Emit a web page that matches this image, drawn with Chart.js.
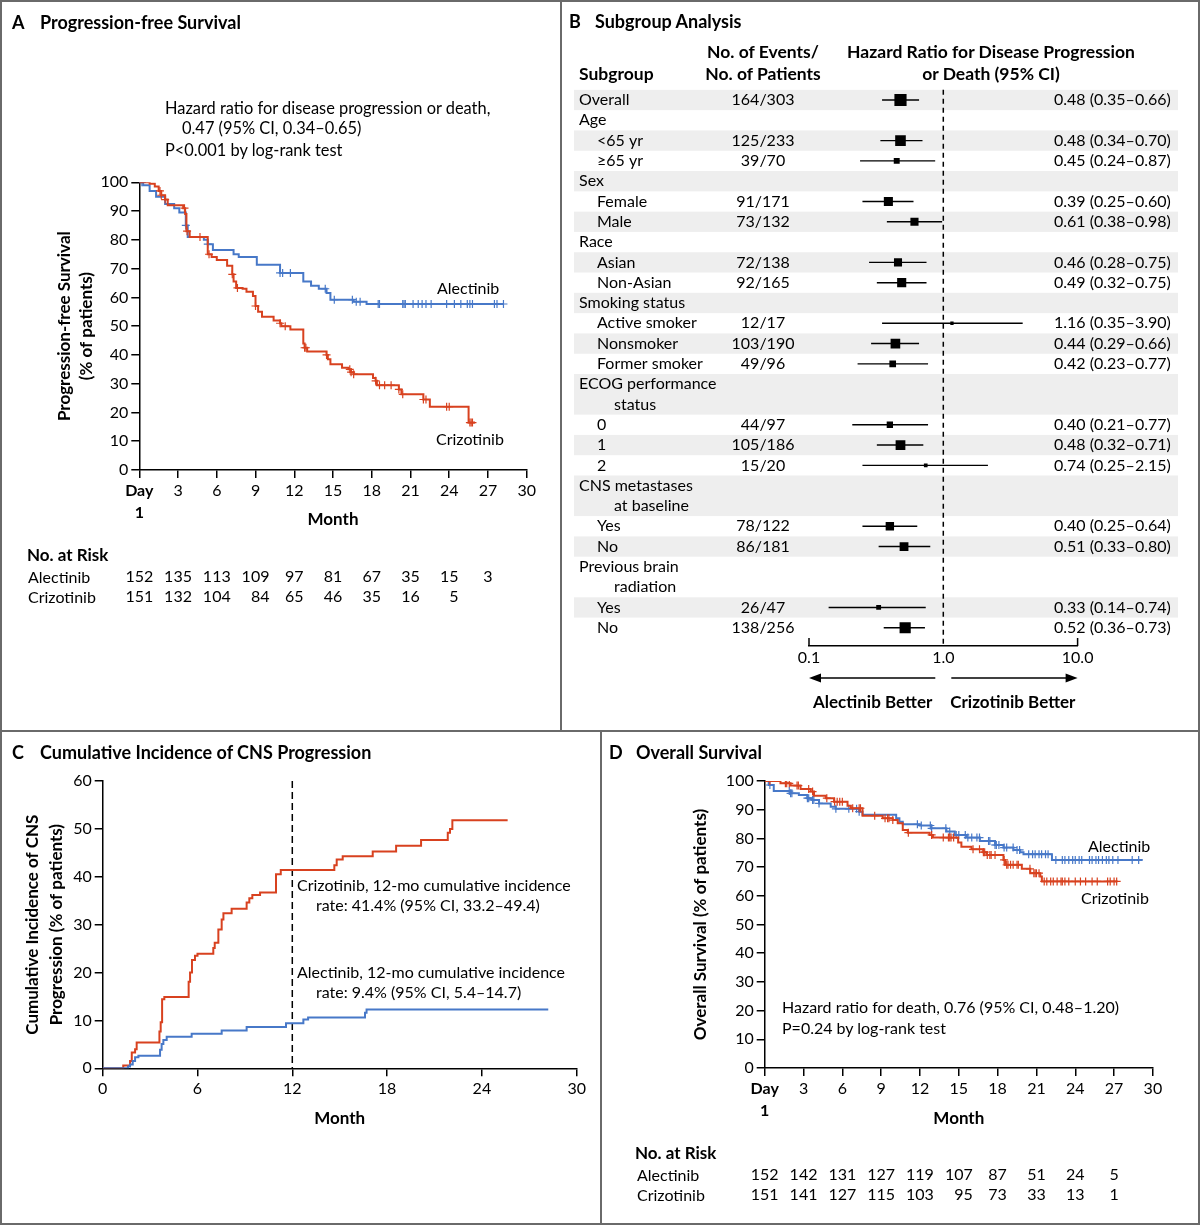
<!DOCTYPE html>
<html>
<head>
<meta charset="utf-8">
<script src="https://cdn.jsdelivr.net/npm/chart.js@4.4.1/dist/chart.umd.min.js"></script>
<style>
body { margin: 0; background: #fff; font-family: Lato, "Noto Sans", sans-serif; color: #000; }
#fig { position: relative; width: 1200px; height: 1225px; overflow: hidden; background: #fff; }
.panel { position: absolute; }
.panel canvas { position: absolute; left: 0; top: 0; }
.rule { position: absolute; background: #6a6a6a; }
.t { position: absolute; white-space: nowrap; font-size: 16px; line-height: 20px; }
.b { font-weight: bold; }
.h { font-size: 17.5px; }
.c { transform: translateX(-50%); }
.ttl { font-size: 18px; font-weight: bold; }
</style>
</head>
<body>
<div id="fig">
  <div class="rule" style="left:0;top:0;width:1200px;height:1225px;background:none;border:2px solid #6a6a6a;box-sizing:border-box"></div>
  <div class="rule" style="left:560px;top:0;width:2px;height:731px"></div>
  <div class="rule" style="left:0;top:730px;width:1200px;height:2px"></div>
  <div class="rule" style="left:600px;top:731px;width:2px;height:494px"></div>

  <!-- A -->
  <div class="panel" style="left:0;top:0;width:561px;height:731px">
    <canvas id="chartA"></canvas>
    <div class="t ttl" style="left:12px;top:12px">A</div>
    <div class="t ttl" style="left:40px;top:12px">Progression-free Survival</div>
    <div class="t" style="left:165px;top:98px;font-size:16.4px">Hazard ratio for disease progression or death,</div>
    <div class="t" style="left:182px;top:118px;font-size:16.4px">0.47 (95% CI, 0.34–0.65)</div>
    <div class="t" style="left:165px;top:140px;font-size:16.4px">P&lt;0.001 by log-rank test</div>
    <div class="t" style="left:437px;top:278px">Alectinib</div>
    <div class="t" style="left:436px;top:429px">Crizotinib</div>
    <div class="t b" style="left:27px;top:545px;font-size:17px">No. at Risk</div>
    <div class="t" style="left:28px;top:567px">Alectinib</div>
    <div class="t" style="left:28px;top:587px">Crizotinib</div>
  </div>

  <!-- B -->
  <div class="panel" style="left:561px;top:0;width:639px;height:731px">
    <canvas id="chartB"></canvas>
    <div class="t ttl" style="left:8px;top:11px">B</div>
    <div class="t ttl" style="left:34px;top:11px">Subgroup Analysis</div>
    <div class="t b h" style="left:18px;top:64px">Subgroup</div>
    <div class="t b h c" style="left:202px;top:42px">No. of Events/</div>
    <div class="t b h c" style="left:202px;top:64px">No. of Patients</div>
    <div class="t b h c" style="left:430px;top:42px">Hazard Ratio for Disease Progression</div>
    <div class="t b h c" style="left:430px;top:64px">or Death (95% CI)</div>
  </div>

  <!-- C -->
  <div class="panel" style="left:0;top:731px;width:601px;height:494px">
    <canvas id="chartC"></canvas>
    <div class="t ttl" style="left:12px;top:11px">C</div>
    <div class="t ttl" style="left:40px;top:11px">Cumulative Incidence of CNS Progression</div>
    <div class="t" style="left:297px;top:144px">Crizotinib, 12-mo cumulative incidence</div>
    <div class="t" style="left:316px;top:164px">rate: 41.4% (95% CI, 33.2–49.4)</div>
    <div class="t" style="left:297px;top:231px">Alectinib, 12-mo cumulative incidence</div>
    <div class="t" style="left:316px;top:251px">rate: 9.4% (95% CI, 5.4–14.7)</div>
  </div>

  <!-- D -->
  <div class="panel" style="left:601px;top:731px;width:599px;height:494px">
    <canvas id="chartD"></canvas>
    <div class="t ttl" style="left:8px;top:11px">D</div>
    <div class="t ttl" style="left:35px;top:11px">Overall Survival</div>
    <div class="t" style="left:181px;top:266px">Hazard ratio for death, 0.76 (95% CI, 0.48–1.20)</div>
    <div class="t" style="left:181px;top:287px">P=0.24 by log-rank test</div>
    <div class="t" style="left:487px;top:105px">Alectinib</div>
    <div class="t" style="left:480px;top:157px">Crizotinib</div>
    <div class="t b" style="left:34px;top:412px;font-size:17px">No. at Risk</div>
    <div class="t" style="left:36px;top:434px">Alectinib</div>
    <div class="t" style="left:36px;top:454px">Crizotinib</div>
  </div>
</div>

<script>
const BLUE = '#4778c8';
const RED = '#d8411f';
const FONT = 'Lato, "Noto Sans", sans-serif';

// ---- A: progression-free survival (months, % event-free)
const pfsMonthsAlec = [0, 0.3, 0.8, 1.3, 2.0, 2.7, 3.1, 3.6, 3.75, 5.0, 5.3, 5.7, 7.3, 7.7, 9.1, 10.9, 12.7, 13.3, 13.9, 14.5, 14.8, 16.6, 17.6, 28.2];
const pfsAlec = [100, 99, 97, 95, 92.5, 91, 89.5, 85, 81, 80, 78.5, 76.5, 75, 74, 71.3, 68.5, 65.5, 64, 63, 61.5, 59.2, 58.5, 57.7, 57.7];
const pfsMonthsCriz = [0, 0.8, 1.2, 1.5, 1.7, 2.0, 2.2, 3.4, 3.55, 3.65, 3.9, 5.3, 5.6, 6.0, 6.8, 7.2, 7.3, 7.5, 8.0, 8.3, 8.8, 9.0, 9.2, 9.5, 10.4, 10.9, 11.0, 11.7, 12.7, 12.8, 13.0, 14.5, 14.6, 14.8, 15.7, 16.2, 16.4, 16.6, 18.1, 18.3, 18.4, 20.1, 20.3, 22.0, 22.5, 25.5, 26.0];
const pfsCriz = [100, 99.5, 98.5, 97, 95.5, 94, 92, 91, 89, 83, 81, 75, 74, 73, 71, 68, 65.5, 63.3, 63, 62, 60.5, 57, 55, 53.3, 52, 51, 50, 48.8, 44, 42.5, 41.2, 40, 38.5, 36.8, 35.5, 35, 34, 33.3, 32, 31, 29.5, 28, 26.3, 24.5, 22, 16.5, 16.5];
const pfsCensorAlec = [0.2, 3.6, 5.3, 10.9, 11.1, 11.7, 14.4, 15.1, 16.5, 16.8, 17.1, 18.5, 18.6, 20.4, 20.5, 20.6, 21.2, 21.6, 21.9, 22.2, 22.6, 23.8, 24.4, 24.9, 25.4, 25.6, 25.8, 27.5, 27.7, 28.2];
const pfsCensorCriz = [1.6, 1.7, 2.0, 3.5, 3.7, 4.7, 5.4, 7.2, 7.6, 9.0, 10.9, 11.3, 12.8, 12.9, 14.5, 16.3, 16.4, 16.6, 18.3, 18.6, 19.0, 19.5, 20.1, 20.4, 22.0, 22.2, 23.8, 24.0, 25.6, 25.7, 25.8];
const riskMonths = [0, 3, 6, 9, 12, 15, 18, 21, 24, 27];
const pfsRiskAlec = [152, 135, 113, 109, 97, 81, 67, 35, 15, 3];
const pfsRiskCriz = [151, 132, 104, 84, 65, 46, 35, 16, 5, null];

// ---- B: subgroup analysis
const subgroups = ['Overall', 'Age', '<65 yr', '≥65 yr', 'Sex', 'Female', 'Male', 'Race', 'Asian', 'Non-Asian',
  'Smoking status', 'Active smoker', 'Nonsmoker', 'Former smoker', ['ECOG performance', 'status'], '0', '1', '2',
  ['CNS metastases', 'at baseline'], 'Yes', 'No', ['Previous brain', 'radiation'], 'Yes', 'No'];
const subgroupLevel = [0, 0, 1, 1, 0, 1, 1, 0, 1, 1, 0, 1, 1, 1, 0, 1, 1, 1, 0, 1, 1, 0, 1, 1];
const eventsPatients = ['164/303', '', '125/233', '39/70', '', '91/171', '73/132', '', '72/138', '92/165',
  '', '12/17', '103/190', '49/96', '', '44/97', '105/186', '15/20', '', '78/122', '86/181', '', '26/47', '138/256'];
const hazardRatio = [0.48, null, 0.48, 0.45, null, 0.39, 0.61, null, 0.46, 0.49, null, 1.16, 0.44, 0.42, null, 0.40, 0.48, 0.74, null, 0.40, 0.51, null, 0.33, 0.52];
const ciLow = [0.35, null, 0.34, 0.24, null, 0.25, 0.38, null, 0.28, 0.32, null, 0.35, 0.29, 0.23, null, 0.21, 0.32, 0.25, null, 0.25, 0.33, null, 0.14, 0.36];
const ciHigh = [0.66, null, 0.70, 0.87, null, 0.60, 0.98, null, 0.75, 0.75, null, 3.90, 0.66, 0.77, null, 0.77, 0.71, 2.15, null, 0.64, 0.80, null, 0.74, 0.73];
const hrTicks = [0.1, 1, 10];

// ---- C: cumulative incidence of CNS progression (months, %)
const cnsMonthsCriz = [0, 1.3, 1.73, 1.84, 2.05, 2.15, 3.59, 3.67, 3.76, 3.9, 5.44, 5.53, 5.65, 5.84, 6.0, 7.0, 7.09, 7.32, 7.53, 7.64, 8.16, 9.11, 9.28, 9.47, 9.96, 10.97, 11.27, 14.66, 14.81, 15.19, 17.09, 18.57, 20.15, 21.84, 21.98, 22.13, 25.63];
const cnsCriz = [0, 0.6, 1.5, 3.3, 4, 5.4, 7.7, 9.6, 14.4, 14.9, 18.1, 20, 22.6, 23.5, 23.9, 25.1, 26.2, 29, 31.1, 32.4, 33.3, 34.6, 35.5, 36.2, 36.7, 40.5, 41.4, 42.4, 43.6, 44.3, 45.3, 46.5, 47.7, 49.2, 50, 51.8, 51.8];
const cnsMonthsAlec = [0, 1.6, 1.73, 1.9, 2.05, 2.26, 3.63, 3.73, 3.84, 4.05, 5.63, 7.53, 9.11, 11.6, 12.7, 13.0, 16.6, 16.7, 28.2];
const cnsAlec = [0, 0.4, 0.8, 1.5, 2.3, 2.6, 3.9, 5.1, 5.9, 6.6, 7.2, 7.9, 8.6, 9.4, 10.2, 10.6, 11.6, 12.3, 12.3];
const landmarkMonth = 12;

// ---- D: overall survival (months, %)
const osMonthsAlec = [0, 0.31, 0.7, 2.0, 2.64, 3.29, 3.68, 4.2, 5.1, 5.49, 7.3, 7.56, 10.16, 10.41, 10.67, 11.97, 12.88, 14.04, 14.69, 15.6, 16.63, 17.8, 18.45, 19.22, 19.74, 20.0, 22.2, 29.2];
const osAlec = [100, 98.6, 96.5, 95.7, 95.1, 94, 93.4, 92.2, 91, 90.3, 89.3, 88.2, 87, 85.8, 84.9, 84.5, 83.5, 82.4, 81.2, 80.3, 79.1, 77.7, 76.8, 76, 75.2, 74.5, 72.5, 72.5];
const osMonthsCriz = [0, 1.22, 2.0, 2.77, 3.55, 3.81, 4.72, 5.36, 6.4, 6.66, 7.56, 9.12, 9.9, 10.28, 10.67, 11.06, 12.75, 13.0, 14.95, 15.2, 15.98, 16.89, 17.15, 18.45, 18.58, 19.87, 20.52, 21.3, 21.42, 27.25];
const osCriz = [100, 99.2, 98.4, 97.2, 96.3, 94.9, 94, 92.8, 91.4, 90.5, 87.9, 87, 86.4, 85.3, 82.9, 82, 81.2, 80.3, 78.6, 77.1, 76.2, 75.2, 74.2, 72.5, 70.8, 69.4, 67.9, 66.7, 65, 65];
const osCensorAlec = [0.3, 0.4, 1.9, 2.0, 2.1, 3.3, 3.4, 3.7, 3.8, 4.2, 5.5, 6.5, 7.1, 7.3, 11.8, 12.1, 12.8, 12.9, 14.0, 14.3, 14.8, 15.0, 15.5, 15.7, 16.0, 16.4, 16.6, 17.3, 17.4, 17.8, 17.9, 18.1, 18.5, 18.7, 19.2, 19.5, 19.7, 20.4, 20.7, 20.9, 21.2, 21.4, 21.7, 21.9, 22.5, 23.0, 23.2, 23.5, 23.8, 24.0, 24.3, 24.5, 25.1, 25.3, 25.6, 25.8, 26.1, 26.4, 26.6, 26.9, 27.3, 28.4, 28.9];
const osCensorCriz = [0.4, 1.6, 1.7, 1.9, 2.5, 2.6, 3.4, 3.7, 4.8, 5.4, 5.6, 5.8, 6.0, 6.8, 7.3, 7.4, 8.5, 9.3, 9.5, 9.6, 9.9, 11.1, 12.9, 13.8, 14.2, 14.3, 14.4, 14.6, 16.1, 16.6, 16.9, 17.0, 17.2, 17.4, 17.5, 17.8, 18.5, 18.7, 18.8, 19.0, 19.2, 19.5, 19.6, 20.5, 20.8, 20.9, 21.0, 21.2, 21.6, 21.8, 22.1, 22.3, 22.6, 22.9, 23.0, 23.2, 23.5, 24.0, 24.4, 24.8, 25.3, 25.7, 26.5, 26.7, 27.0, 27.2];
const osRiskAlec = [152, 142, 131, 127, 119, 107, 87, 51, 24, 5];
const osRiskCriz = [151, 141, 127, 115, 103, 95, 73, 33, 13, 1];

// ---------- helpers
function toXY(xs, ys) { return xs.map((x, i) => ({ x: x, y: ys[i] })); }
function stepAt(t, xs, ys) {
  let v = ys[0];
  for (let i = 0; i < xs.length; i++) { if (xs[i] <= t) v = ys[i]; else break; }
  return v;
}
function censorXY(ts, xs, ys) { return ts.map(t => ({ x: t, y: stepAt(t, xs, ys) })); }

function stepLine(xs, ys, color) {
  return { data: toXY(xs, ys), showLine: true, stepped: 'before', borderColor: color, borderWidth: 2, pointRadius: 0, pointHitRadius: 0 };
}
function censorMarks(ts, xs, ys, color) {
  return { data: censorXY(ts, xs, ys), showLine: false, pointStyle: 'cross', pointRadius: 4, borderColor: color, backgroundColor: color, borderWidth: 1.2 };
}

function yAxis(max, step, width, title, lh) {
  return {
    min: 0, max: max,
    ticks: { stepSize: step, font: { size: 16 }, padding: 3, color: '#000' },
    grid: { drawOnChartArea: false, drawTicks: true, tickLength: 8, color: '#000', lineWidth: 1.5 },
    border: { display: true, color: '#000', width: 1.5 },
    title: { display: true, text: title, color: '#000', padding: 0, font: { size: 17, weight: 'bold', lineHeight: lh } },
    afterFit: s => { s.width = width; }
  };
}
function xAxis(step, height, dayLabel) {
  return {
    type: 'linear', min: 0, max: 30,
    ticks: {
      stepSize: step, padding: 2, color: '#000', autoSkip: false, maxRotation: 0,
      callback: v => (dayLabel && v === 0) ? ['Day', '1'] : v,
      font: c => ({ size: 16, lineHeight: 1.375, weight: (dayLabel && c.tick && c.tick.value === 0) ? 'bold' : 'normal' })
    },
    grid: { drawOnChartArea: false, drawTicks: true, tickLength: 8, color: '#000', lineWidth: 1.5 },
    border: { display: true, color: '#000', width: 1.5 },
    title: { display: true, text: 'Month', color: '#000', padding: 0, font: { size: 17, weight: 'bold', lineHeight: 1.2 } },
    afterFit: s => { s.height = height; }
  };
}
function riskTable(rows, ys) {
  return {
    id: 'riskTable',
    afterDraw(chart) {
      const ctx = chart.ctx, xs = chart.scales.x;
      ctx.save();
      ctx.font = '16px ' + FONT;
      ctx.fillStyle = '#000';
      ctx.textBaseline = 'middle';
      ctx.textAlign = 'right';
      riskMonths.forEach((m, i) => {
        const w = Math.max(...rows.map(r => r[i] == null ? 0 : ctx.measureText(String(r[i])).width));
        const x = xs.getPixelForValue(m) + w / 2;
        rows.forEach((r, j) => { if (r[i] != null) ctx.fillText(String(r[i]), x, ys[j]); });
      });
      ctx.restore();
    }
  };
}
const baseOpts = {
  responsive: true, maintainAspectRatio: false, animation: false, events: [],
  plugins: { legend: { display: false }, tooltip: { enabled: false } }
};

// ---------- forest plot helpers
const rowLines = subgroups.map(s => Array.isArray(s) ? s.length : 1);
const rowStart = rowLines.map((n, i) => rowLines.slice(0, i).reduce((a, b) => a + b, 0));
const hrPoints = [];
hazardRatio.forEach((v, i) => {
  if (v != null) hrPoints.push({ x: v, y: rowStart[i], events: parseInt(eventsPatients[i], 10) });
});

const forestPlugin = {
  id: 'forest',
  beforeDraw(chart) {
    const { ctx, scales: { y } } = chart;
    ctx.save();
    ctx.fillStyle = '#eeeeee';
    rowStart.forEach((r, i) => {
      if (i % 2) return;
      const y0 = y.getPixelForValue(r - 0.5), y1 = y.getPixelForValue(r + rowLines[i] - 0.5);
      ctx.fillRect(13, y0, 604, y1 - y0);
    });
    ctx.restore();
  },
  beforeDatasetsDraw(chart) {
    const { ctx, chartArea, scales: { x, y } } = chart;
    ctx.save();
    ctx.strokeStyle = '#000';
    ctx.lineWidth = 1.5;
    ctx.setLineDash([5, 4]);
    const x1 = x.getPixelForValue(1);
    ctx.beginPath(); ctx.moveTo(x1, chartArea.top); ctx.lineTo(x1, chartArea.bottom); ctx.stroke();
    ctx.setLineDash([]);
    ctx.lineWidth = 1.4;
    hazardRatio.forEach((v, i) => {
      if (v == null) return;
      const yy = y.getPixelForValue(rowStart[i]);
      ctx.beginPath(); ctx.moveTo(x.getPixelForValue(ciLow[i]), yy); ctx.lineTo(x.getPixelForValue(ciHigh[i]), yy); ctx.stroke();
    });
    ctx.restore();
  },
  afterDraw(chart) {
    const { ctx, chartArea, scales: { x, y } } = chart;
    ctx.save();
    ctx.fillStyle = '#000';
    ctx.strokeStyle = '#000';
    ctx.textBaseline = 'middle';
    ctx.font = '16px ' + FONT;
    subgroups.forEach((s, i) => {
      const lines = Array.isArray(s) ? s : [s];
      lines.forEach((txt, k) => {
        const yy = y.getPixelForValue(rowStart[i] + k);
        ctx.textAlign = 'left';
        ctx.fillText(txt, k > 0 ? 53 : (subgroupLevel[i] ? 36 : 18), yy);
      });
      const yy = y.getPixelForValue(rowStart[i]);
      if (eventsPatients[i]) { ctx.textAlign = 'center'; ctx.fillText(eventsPatients[i], 202, yy); }
      if (hazardRatio[i] != null) {
        ctx.textAlign = 'left';
        ctx.fillText(hazardRatio[i].toFixed(2) + ' (' + ciLow[i].toFixed(2) + '–' + ciHigh[i].toFixed(2) + ')', 493, yy);
      }
    });
    // bracket ends of the axis
    ctx.lineWidth = 1.5;
    [hrTicks[0], hrTicks[hrTicks.length - 1]].forEach(v => {
      const px = x.getPixelForValue(v);
      ctx.beginPath(); ctx.moveTo(px, chartArea.bottom); ctx.lineTo(px, chartArea.bottom - 8); ctx.stroke();
    });
    // arrows
    const x1 = x.getPixelForValue(1), ay = chartArea.bottom + 32;
    const arrow = (from, to) => {
      const d = to > from ? 1 : -1;
      ctx.beginPath(); ctx.moveTo(from, ay); ctx.lineTo(to - d * 8, ay); ctx.stroke();
      ctx.beginPath(); ctx.moveTo(to, ay); ctx.lineTo(to - d * 12, ay - 4.5); ctx.lineTo(to - d * 12, ay + 4.5); ctx.closePath(); ctx.fill();
    };
    arrow(x1 - 8, x.getPixelForValue(hrTicks[0]));
    arrow(x1 + 8, x.getPixelForValue(hrTicks[hrTicks.length - 1]));
    ctx.font = 'bold 17px ' + FONT;
    ctx.textAlign = 'right';
    ctx.fillText('Alectinib Better', x1 - 11, chartArea.bottom + 57);
    ctx.textAlign = 'left';
    ctx.fillText('Crizotinib Better', x1 + 7, chartArea.bottom + 57);
    ctx.restore();
  }
};

const landmarkPlugin = {
  id: 'landmark',
  beforeDatasetsDraw(chart) {
    const { ctx, chartArea, scales: { x } } = chart;
    const px = x.getPixelForValue(landmarkMonth);
    ctx.save();
    ctx.strokeStyle = '#000';
    ctx.lineWidth = 1.5;
    ctx.setLineDash([7, 4]);
    ctx.beginPath(); ctx.moveTo(px, chartArea.top); ctx.lineTo(px, chartArea.bottom); ctx.stroke();
    ctx.restore();
  }
};

function build() {
  Chart.defaults.font.family = FONT;
  Chart.defaults.font.size = 16;
  Chart.defaults.color = '#000';

  // A
  new Chart(document.getElementById('chartA'), {
    type: 'scatter',
    data: { datasets: [
      stepLine(pfsMonthsCriz, pfsCriz, RED),
      censorMarks(pfsCensorCriz, pfsMonthsCriz, pfsCriz, RED),
      stepLine(pfsMonthsAlec, pfsAlec, BLUE),
      censorMarks(pfsCensorAlec, pfsMonthsAlec, pfsAlec, BLUE)
    ] },
    options: Object.assign({}, baseOpts, {
      layout: { padding: { left: 54, top: 182.3, right: 34.3, bottom: 200.8 } },
      scales: {
        x: xAxis(3, 60.2, true),
        y: yAxis(100, 10, 85.3, ['Progression-free Survival', '(% of patients)'], 1.294)
      }
    }),
    plugins: [riskTable([pfsRiskAlec, pfsRiskCriz], [577, 597])]
  });

  // B
  new Chart(document.getElementById('chartB'), {
    type: 'scatter',
    data: { datasets: [{
      data: hrPoints,
      pointStyle: 'rect',
      pointRadius: c => c.raw ? 0.672 * Math.sqrt(c.raw.events) : 3,
      backgroundColor: '#000', borderColor: '#000', borderWidth: 0
    }] },
    options: Object.assign({}, baseOpts, {
      layout: { padding: { left: 248, top: 89.85, right: 122.4, bottom: 0 } },
      scales: {
        x: {
          type: 'logarithmic', min: 0.1, max: 10,
          afterBuildTicks: s => { s.ticks = hrTicks.map(v => ({ value: v })); },
          ticks: { callback: v => Number(v).toFixed(1), font: { size: 16 }, padding: 2, color: '#000', autoSkip: false, maxRotation: 0 },
          grid: { display: true, drawOnChartArea: false, drawTicks: false },
          border: { display: true, color: '#000', width: 1.5 },
          afterFit: s => { s.height = 85; }
        },
        y: { display: false, min: -0.5, max: 26.9, reverse: true }
      }
    }),
    plugins: [forestPlugin]
  });

  // C
  new Chart(document.getElementById('chartC'), {
    type: 'scatter',
    data: { datasets: [
      stepLine(cnsMonthsAlec, cnsAlec, BLUE),
      stepLine(cnsMonthsCriz, cnsCriz, RED)
    ] },
    options: Object.assign({}, baseOpts, {
      layout: { padding: { left: 21, top: 50, right: 24.3, bottom: 96.3 } },
      scales: {
        x: xAxis(6, 60.4, false),
        y: yAxis(60, 10, 81.7, ['Cumulative Incidence of CNS', 'Progression (% of patients)'], 1.41)
      }
    }),
    plugins: [landmarkPlugin]
  });

  // D
  new Chart(document.getElementById('chartD'), {
    type: 'scatter',
    data: { datasets: [
      stepLine(osMonthsCriz, osCriz, RED),
      censorMarks(osCensorCriz, osMonthsCriz, osCriz, RED),
      stepLine(osMonthsAlec, osAlec, BLUE),
      censorMarks(osCensorAlec, osMonthsAlec, osAlec, BLUE)
    ] },
    options: Object.assign({}, baseOpts, {
      layout: { padding: { left: 87.7, top: 50, right: 47.1, bottom: 95.8 } },
      scales: {
        x: xAxis(3, 61.2, true),
        y: yAxis(100, 10, 76, 'Overall Survival (% of patients)', 1.4)
      }
    }),
    plugins: [riskTable([osRiskAlec, osRiskCriz], [444, 464])]
  });
}

if (document.fonts && document.fonts.load) {
  Promise.all([document.fonts.load('16px Lato'), document.fonts.load('bold 16px Lato')]).then(build, build);
} else {
  build();
}
</script>
</body>
</html>
